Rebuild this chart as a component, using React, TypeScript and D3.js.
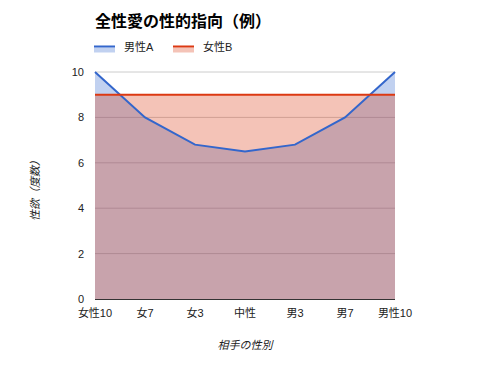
import React from "react";
import * as d3 from "d3";

const categories = ["女性10", "女7", "女3", "中性", "男3", "男7", "男性10"];
const seriesA = [10, 8, 6.8, 6.5, 6.8, 8, 10];
const seriesB = [9, 9, 9, 9, 9, 9, 9];
const yTicks = [0, 2, 4, 6, 8, 10];
const seriesNames = ["男性A", "女性B"];
const colors = ["#3366cc", "#dc3912"];

const W = 489, H = 371;
const M = { left: 95, right: 94, top: 72, bottom: 72 };

export default function App() {
  const x = d3.scalePoint<string>().domain(categories).range([M.left, W - M.right]);
  const y = d3.scaleLinear().domain([0, 10]).range([H - M.bottom, M.top]);
  const font = "Arial, 'Liberation Sans', 'Noto Sans CJK JP', sans-serif";
  const area = d3.area<number>().x((_, i) => x(categories[i])!).y0(y(0)).y1((d) => y(d));
  const line = d3.line<number>().x((_, i) => x(categories[i])!).y((d) => y(d));
  const series = [seriesA, seriesB];
  return (
    <svg width={W} height={H} style={{ position: "absolute", left: 0, top: 0 }} fontFamily={font}>
      <rect width={W} height={H} fill="#fff" />
      <text x={95} y={27} fontSize={16} fontWeight="bold" fill="#000">全性愛の性的指向（例）</text>
      {seriesNames.map((n, i) => {
        const lx = 94 + i * 79;
        return (
          <g key={n}>
            <rect x={lx} y={47.5} width={21} height={5} fill={colors[i]} fillOpacity={0.3} />
            <rect x={lx} y={45.5} width={21} height={2} fill={colors[i]} />
            <text x={lx + 30} y={51} fontSize={11} fill="#222">{n}</text>
          </g>
        );
      })}
      {yTicks.map((t) => (
        <g key={t}>
          {t !== 0 && <line x1={M.left} x2={W - M.right} y1={y(t)} y2={y(t)} stroke="#ccc" />}
          <text x={84} y={y(t) + 4} fontSize={11} textAnchor="end" fill="#222">{t}</text>
        </g>
      ))}
      {series.map((s, i) => (
        <path key={i} d={area(s)!} fill={colors[i]} fillOpacity={0.3} />
      ))}
      <line x1={M.left} x2={W - M.right} y1={y(0) + 0.5} y2={y(0) + 0.5} stroke="#333" />
      {series.map((s, i) => (
        <path key={i} d={line(s)!} fill="none" stroke={colors[i]} strokeWidth={2} />
      ))}
      {categories.map((c) => (
        <text key={c} x={x(c)} y={317} fontSize={11} textAnchor="middle" fill="#222">{c}</text>
      ))}
      <text x={245} y={349} fontSize={11} fontStyle="italic" textAnchor="middle" fill="#222">相手の性別</text>
      <text transform={`translate(39,188) rotate(-90)`} fontSize={11} fontStyle="italic" textAnchor="middle" fill="#222">性欲（度数）</text>
    </svg>
  );
}
